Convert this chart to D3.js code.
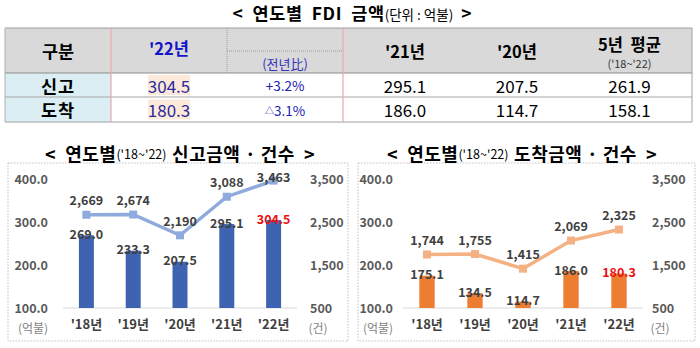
<!DOCTYPE html>
<html><head><meta charset="utf-8">
<script src="https://cdn.jsdelivr.net/npm/d3@7"></script>
<style>body{margin:0;background:#fff}svg{display:block}text{white-space:pre}</style>
</head><body><svg id="c" width="700" height="348"></svg>
<script>
// ---- data ----
const years = ["'18년", "'19년", "'20년", "'21년", "'22년"];
const reportAmount = [269.0, 233.3, 207.5, 295.1, 304.5];
const reportCount = [2669, 2674, 2190, 3088, 3463];
const arrivalAmount = [175.1, 134.5, 114.7, 186.0, 180.3];
const arrivalCount = [1744, 1755, 1415, 2069, 2325];
const amountTicks = [100, 200, 300, 400];
const countTicks = [500, 1500, 2500, 3500];
const tableRows = ["신고", "도착"];
const table22 = ["304.5", "180.3"];
const tableChange = [["+", "3.2%"], ["△", "3.1%"]];
const table21 = ["295.1", "186.0"];
const table20 = ["207.5", "114.7"];
const tableAvg = ["261.9", "158.1"];

const F = "'Noto Sans CJK KR','Malgun Gothic',sans-serif";
const svg = d3.select("#c").style("font-family", F);

// ---- top title ----
const t0 = svg.append("text").attr("x", 352).attr("y", 20).attr("text-anchor", "middle").attr("fill", "#000");
t0.append("tspan").attr("font-size", 17.5).attr("font-weight", "bold").attr("letter-spacing", 0.6).text("<  연도별  FDI  금액");
t0.append("tspan").attr("font-size", 13.5).text("(단위 : 억불)");
t0.append("tspan").attr("font-size", 17.5).attr("font-weight", "bold").text("  >");

// ---- table ----
const cx = [5, 111, 227, 343, 467, 567, 692];
const ry = [28, 73, 97, 122];
const tg = svg.append("g");
tg.append("rect").attr("x", cx[0]).attr("y", ry[0]).attr("width", cx[6] - cx[0]).attr("height", ry[1] - ry[0]).attr("fill", "#d9d9d9");
tg.append("rect").attr("x", cx[0]).attr("y", ry[1]).attr("width", cx[1] - cx[0]).attr("height", ry[3] - ry[1]).attr("fill", "#daeef3");
[[ry[0], "#a0a0a0"], [ry[1], "#8c8c8c"], [ry[2], "#a6a6a6"], [ry[3], "#a0a0a0"]].forEach(([y, c]) => {
  tg.append("line").attr("x1", cx[0]).attr("x2", cx[6]).attr("y1", y).attr("y2", y).attr("stroke", c).attr("stroke-width", 1.2);
});
tg.append("line").attr("x1", cx[0]).attr("x2", cx[0]).attr("y1", ry[0]).attr("y2", ry[3]).attr("stroke", "#b0b0b0");
tg.append("line").attr("x1", cx[6]).attr("x2", cx[6]).attr("y1", ry[0]).attr("y2", ry[3]).attr("stroke", "#a0a0a0");
[cx[1], cx[3]].forEach(x => tg.append("line").attr("x1", x).attr("x2", x).attr("y1", ry[0]).attr("y2", ry[3]).attr("stroke", "#e9a9a9").attr("stroke-width", 1.2));
tg.append("line").attr("x1", cx[2]).attr("x2", cx[2]).attr("y1", ry[0]).attr("y2", ry[1]).attr("stroke", "#9a9a9a").attr("stroke-dasharray", "1,1");
tg.append("line").attr("x1", cx[2]).attr("x2", cx[3]).attr("y1", 51).attr("y2", 51).attr("stroke", "#9a9a9a").attr("stroke-dasharray", "1,1");

function ctext(x, y, s, size, weight, color) {
  return tg.append("text").attr("x", x).attr("y", y).attr("text-anchor", "middle").attr("dominant-baseline", "central")
    .attr("font-size", size).attr("font-weight", weight).attr("fill", color).text(s);
}
const mid = i => (cx[i] + cx[i + 1]) / 2;
ctext(mid(0), 50, "구분", 17.5, "bold", "#000");
ctext(mid(1), 48, "'22년", 16.5, "bold", "#1414c8");
ctext(mid(2), 63, "(전년比)", 13, "normal", "#3333bb");
ctext(mid(3), 51, "'21년", 16.5, "bold", "#000");
ctext(mid(4), 51, "'20년", 16.5, "bold", "#000");
ctext(mid(5), 44, "5년  평균", 16.5, "bold", "#000");
ctext(mid(5), 63, "('18~'22)", 11, "normal", "#333");

tableRows.forEach((r, i) => {
  const y = (ry[i + 1] + ry[i + 2]) / 2;
  ctext(mid(0), y, r, 17.5, "bold", "#000").attr("letter-spacing", 1);
  tg.append("rect").attr("x", mid(1) - 21).attr("y", y - 10).attr("width", 42).attr("height", 20).attr("fill", "#fde9da");
  ctext(mid(1), y, table22[i], 17, "normal", "#2b2b9a");
  const ct = ctext(mid(2), y, "", 13.5, "normal", "#2020b0");
  ct.append("tspan").attr("font-size", tableChange[i][0] === "△" ? 9 : 13.5).text(tableChange[i][0]);
  ct.append("tspan").text(tableChange[i][1]);
  ctext(mid(3), y, table21[i], 17, "normal", "#000");
  ctext(mid(4), y, table20[i], 17, "normal", "#000");
  ctext(mid(5), y, tableAvg[i], 17, "normal", "#000");
});

// ---- charts ----
function drawChart(o) {
  const g = svg.append("g");
  g.append("rect").attr("x", o.frame[0]).attr("y", 163).attr("width", o.frame[1] - o.frame[0]).attr("height", 178)
    .attr("fill", "none").attr("stroke", "#bfbfbf").attr("stroke-dasharray", "1.5,1.5");
  const tt = g.append("text").attr("x", o.titleX).attr("y", 153).attr("text-anchor", "middle").attr("dominant-baseline", "central").attr("fill", "#000");
  tt.append("tspan").attr("font-size", 18).attr("font-weight", "bold").attr("letter-spacing", 0.5).text("<  연도별");
  tt.append("tspan").attr("font-size", 12.5).text("('18~'22)  ");
  tt.append("tspan").attr("font-size", 18).attr("font-weight", "bold").attr("letter-spacing", 0.5).text(o.title + " · 건수  >");

  const x = d3.scaleBand().domain(years).range(o.xr).paddingInner(0.68).paddingOuter(0.34);
  const yA = d3.scaleLinear().domain([100, 400]).range([308, 179]);
  const yC = d3.scaleLinear().domain([500, 3500]).range([308, 179]);

  g.append("line").attr("x1", o.xr[0]).attr("x2", o.xr[1]).attr("y1", yA(100)).attr("y2", yA(100)).attr("stroke", "#d9d9d9");

  const axL = g.append("g").attr("transform", `translate(${o.leftX},0)`)
    .call(d3.axisLeft(yA).tickValues(amountTicks).tickFormat(d3.format(".1f")).tickSize(0).tickPadding(0));
  axL.select(".domain").remove();
  axL.selectAll("text").attr("font-family", F).attr("font-size", 12.5).attr("font-weight", "bold").attr("fill", "#595959");
  const axR = g.append("g").attr("transform", `translate(${o.rightX},0)`)
    .call(d3.axisRight(yC).tickValues(countTicks).tickFormat(d3.format(",")).tickSize(0).tickPadding(0));
  axR.select(".domain").remove();
  axR.selectAll("text").attr("font-family", F).attr("font-size", 12.5).attr("font-weight", "bold").attr("fill", "#595959");

  const axB = g.append("g").attr("transform", `translate(0,${yA(100)})`)
    .call(d3.axisBottom(x).tickSize(0).tickPadding(12));
  axB.select(".domain").remove();
  axB.selectAll("text").attr("font-family", F).attr("font-size", 13).attr("font-weight", "bold").attr("fill", "#404040");

  g.append("text").attr("x", o.leftX - 15).attr("y", 327).attr("text-anchor", "middle").attr("dominant-baseline", "central")
    .attr("font-size", 12).attr("fill", "#7f7f7f").text("(억불)");
  g.append("text").attr("x", o.rightX + 8).attr("y", 327).attr("text-anchor", "middle").attr("dominant-baseline", "central")
    .attr("font-size", 12).attr("fill", "#7f7f7f").text("(건)");

  g.selectAll("rect.bar").data(o.amount).join("rect").attr("class", "bar")
    .attr("x", (d, i) => x(years[i])).attr("width", x.bandwidth())
    .attr("y", d => yA(d)).attr("height", d => yA(100) - yA(d)).attr("fill", o.barColor);

  const line = d3.line().x((d, i) => x(years[i]) + x.bandwidth() / 2).y(d => yC(d));
  g.append("path").datum(o.count).attr("d", line).attr("fill", "none").attr("stroke", o.lineColor).attr("stroke-width", 3.5);
  g.selectAll("rect.mk").data(o.count).join("rect").attr("class", "mk")
    .attr("x", (d, i) => x(years[i]) + x.bandwidth() / 2 - 4).attr("y", d => yC(d) - 4)
    .attr("width", 8).attr("height", 8).attr("fill", o.lineColor);

  g.selectAll("text.bl").data(o.amount).join("text").attr("class", "bl")
    .attr("x", (d, i) => x(years[i]) + x.bandwidth() / 2).attr("y", d => yA(d) - 2)
    .attr("text-anchor", "middle").attr("dominant-baseline", "central")
    .attr("font-size", 12.5).attr("font-weight", "bold")
    .attr("fill", (d, i) => i === years.length - 1 ? "#e81010" : "#404040")
    .text(d => d3.format(".1f")(d));
  g.selectAll("text.cl").data(o.count).join("text").attr("class", "cl")
    .attr("x", (d, i) => x(years[i]) + x.bandwidth() / 2).attr("y", d => Math.max(yC(d) - 15, 176))
    .attr("text-anchor", "middle").attr("dominant-baseline", "central")
    .attr("font-size", 12.5).attr("font-weight", "bold").attr("fill", "#404040")
    .text(d => d3.format(",")(d));
}

drawChart({ frame: [8, 348], titleX: 180, title: "신고금액", xr: [63, 297], leftX: 48, rightX: 310,
  amount: reportAmount, count: reportCount, barColor: "#3e63b0", lineColor: "#8faadc" });
drawChart({ frame: [358, 695], titleX: 522, title: "도착금액", xr: [403, 643], leftX: 393, rightX: 652,
  amount: arrivalAmount, count: arrivalCount, barColor: "#ed7d31", lineColor: "#f4b183" });
</script></body></html>
